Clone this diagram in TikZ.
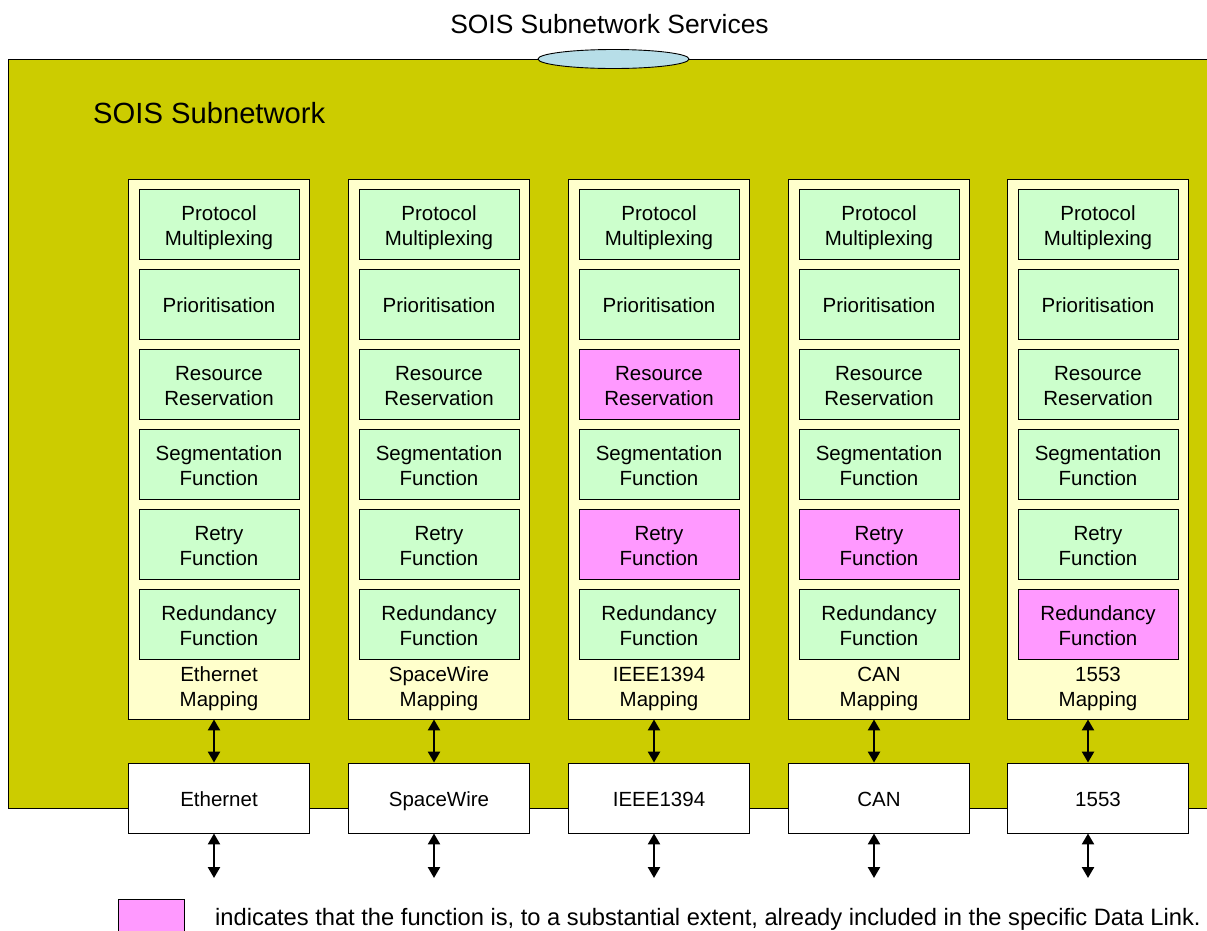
\documentclass[tikz,border=0pt]{standalone}
\usepackage{fontspec}
\setmainfont{Liberation Sans}
\usetikzlibrary{arrows.meta,shapes.geometric}
\definecolor{olivebg}{RGB}{204,204,0}
\definecolor{colbg}{RGB}{255,255,204}
\definecolor{fngreen}{RGB}{204,255,204}
\definecolor{fnpink}{RGB}{255,153,255}
\definecolor{sapblue}{RGB}{183,222,232}
\newcommand\tlines[2]{\begin{tabular}{@{}c@{}}#1\\#2\end{tabular}}
\tikzset{
  txt/.style={font=\fontsize{20.5}{25}\selectfont, align=center, inner sep=0pt},
  one/.style={text height=17pt, text depth=0pt},
  two/.style={text height=30pt, text depth=11.8pt},
  colbox/.style={draw=black, line width=0.9pt, fill=colbg, minimum width=181pt, minimum height=540pt, inner sep=0pt},
  fnbox/.style={draw=black, line width=0.9pt, fill=fngreen, minimum width=160pt, minimum height=70pt, txt},
  pinkbox/.style={fnbox, fill=fnpink},
  phybox/.style={draw=black, line width=0.9pt, fill=white, minimum width=181pt, minimum height=70pt, txt, one},
  dbl/.style={line width=2.4pt, {Triangle[width=12pt,length=11pt]}-{Triangle[width=12pt,length=11pt]}}
}
\begin{document}
\begin{tikzpicture}[x=1pt,y=-1pt]
\useasboundingbox (0,0) rectangle (1207,930);
% subnetwork
\node[draw=black, line width=0.9pt, fill=olivebg, minimum width=1212pt, minimum height=749pt, inner sep=0pt, anchor=north west] (subnet) at (8,59) {};
\node[draw=black, line width=0.9pt, fill=sapblue, ellipse, minimum width=151pt, minimum height=19pt, inner sep=0pt] (sap) at (613.5,59) {};
\node[font=\fontsize{26.4}{30}\selectfont, inner sep=0pt] (title) at (609.5,24) {SOIS Subnetwork Services};
\node[font=\fontsize{29.2}{34}\selectfont, inner sep=0pt, anchor=west] (subtitle) at (93,113) {SOIS Subnetwork};
% columns
\foreach \i/\x/\map/\phy/\pa/\pb/\pc/\off in {
  1/219/Ethernet/Ethernet/fnbox/fnbox/fnbox/-5,
  2/439/SpaceWire/SpaceWire/fnbox/fnbox/fnbox/-5,
  3/659/IEEE1394/IEEE1394/pinkbox/pinkbox/fnbox/-5,
  4/879/CAN/CAN/fnbox/pinkbox/fnbox/-5,
  5/1098/1553/1553/fnbox/fnbox/pinkbox/-10}{
  \node[colbox] (col\i) at (\x,449) {};
  \node[fnbox, two] (pm\i) at (\x,224) {\tlines{Protocol}{Multiplexing}};
  \node[fnbox, one] (pr\i) at (\x,304) {Prioritisation};
  \node[\pa, two] (rr\i) at (\x,384) {\tlines{Resource}{Reservation}};
  \node[fnbox, two] (sf\i) at (\x,464) {\tlines{Segmentation}{Function}};
  \node[\pb, two] (rf\i) at (\x,544) {\tlines{Retry}{Function}};
  \node[\pc, two] (rd\i) at (\x,624) {\tlines{Redundancy}{Function}};
  \node[txt] (map\i) at (\x,689) {\tlines{\map}{Mapping}};
  \node[phybox] (phy\i) at (\x,798) {\phy};
  \coordinate (end\i) at ([xshift=\off pt]phy\i.south |- 0,878);
  \draw[dbl] ([xshift=\off pt]col\i.south) -- ([xshift=\off pt]phy\i.north);
  \draw[dbl] ([xshift=\off pt]phy\i.south) -- (end\i);
}
% legend
\node[draw=black, line width=0.9pt, fill=fnpink, minimum width=66pt, minimum height=40pt, inner sep=0pt, anchor=north west] (leg) at (118,899) {};
\node[font=\fontsize{23.7}{28}\selectfont, inner sep=0pt, anchor=base west] (legtxt) at (215,925) {indicates that the function is, to a substantial extent, already included in the specific Data Link.};
\end{tikzpicture}
\end{document}
